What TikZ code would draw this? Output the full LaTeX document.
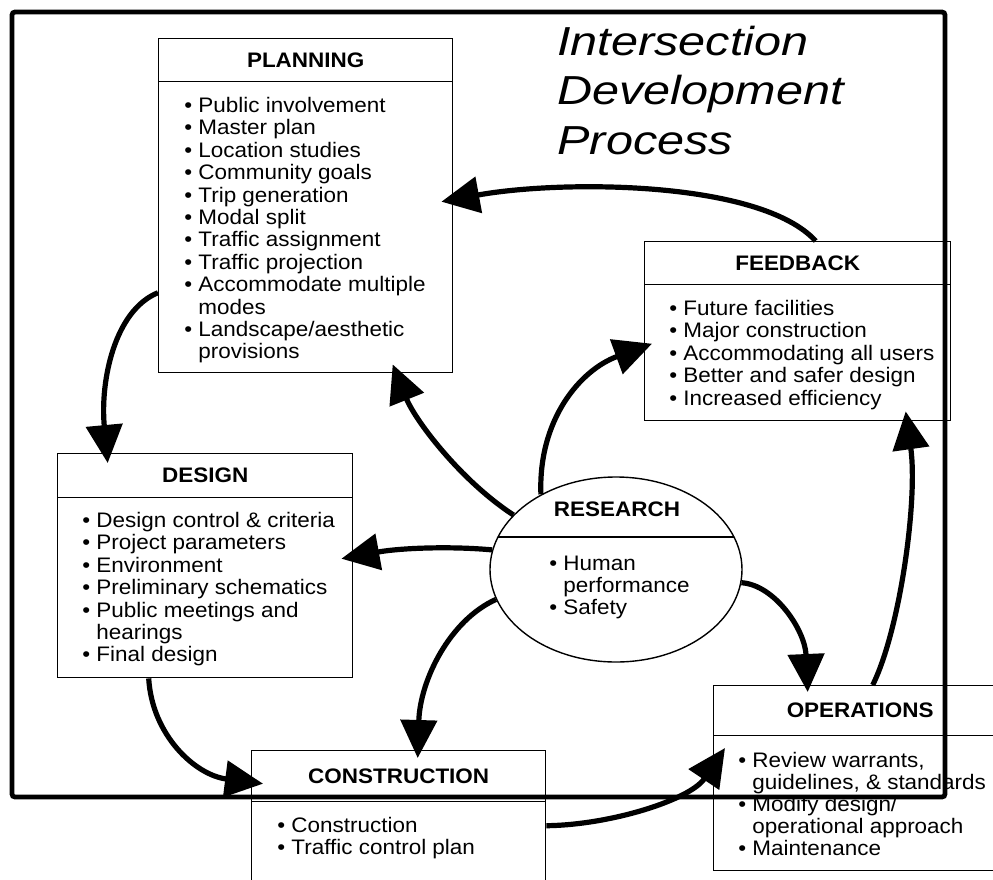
\documentclass[tikz,border=0pt]{standalone}
\usepackage{fontspec}
\setmainfont{Liberation Sans}[FakeStretch=1.07]
\newfontfamily\titlefont{Liberation Sans}[FakeStretch=1.2]
\usetikzlibrary{arrows.meta,shapes.geometric,calc}
% bullet and hanging indent for the item lists
\newcommand\bul{\makebox[7pt][l]{\textbullet}}
\newcommand\cnt{\hspace*{7pt}}
\newcommand\firstline{\rule{0pt}{8pt}}

\begin{document}
\begin{tikzpicture}[x=0.5pt,y=-0.5pt,
  headbox/.style={draw, line width=0.7pt, fill=white, inner sep=0pt, anchor=north west,
                  font=\fontsize{10.5}{12}\selectfont\bfseries},
  bodybox/.style={draw, line width=0.7pt, fill=white, inner sep=0pt, anchor=north west},
  listtext/.style={inner sep=0pt, anchor=north west, align=left,
                   font=\fontsize{10.5}{11.2}\selectfont},
  flow/.style={line width=2.6pt, -{Triangle[length=19pt,width=18pt]}},
]
\useasboundingbox (0,0) rectangle (993,880);
\clip (0,0) rectangle (993,880);
\fill[white] (0,0) rectangle (993,880);

% title
\node[anchor=north west, inner sep=0pt, align=left,
      font=\titlefont\itshape\fontsize{20.25}{24.75}\selectfont] (title) at (557,25)
  {\rule{0pt}{15pt}Intersection\\Development\\Process};

% PLANNING
\node[headbox, minimum width=147pt, minimum height=21.5pt] (planHead) at (158,38) {PLANNING};
\node[bodybox, minimum width=147pt, minimum height=145.5pt] (plan) at (158,81) {};
\node[listtext] (planList) at (184,96) {\firstline\bul Public involvement\\
  \bul Master plan\\
  \bul Location studies\\
  \bul Community goals\\
  \bul Trip generation\\
  \bul Modal split\\
  \bul Traffic assignment\\
  \bul Traffic projection\\
  \bul Accommodate multiple\\
  \cnt modes\\
  \bul Landscape/aesthetic\\
  \cnt provisions};

% DESIGN
\node[headbox, minimum width=147.5pt, minimum height=22pt] (desHead) at (57,453) {DESIGN};
\node[bodybox, minimum width=147.5pt, minimum height=90pt] (des) at (57,497) {};
\node[listtext] (desList) at (82,511) {\firstline\bul Design control \& criteria\\
  \bul Project parameters\\
  \bul Environment\\
  \bul Preliminary schematics\\
  \bul Public meetings and\\
  \cnt hearings\\
  \bul Final design};

% CONSTRUCTION
\node[headbox, minimum width=147pt, minimum height=25.5pt] (conHead) at (251,750) {CONSTRUCTION};
\node[bodybox, minimum width=147pt, minimum height=49.5pt] (con) at (251,801) {};
\node[listtext] (conList) at (277,816) {\firstline\bul Construction\\
  \bul Traffic control plan};

% FEEDBACK
\node[headbox, minimum width=153pt, minimum height=21.5pt] (feedHead) at (644,241) {FEEDBACK};
\node[bodybox, minimum width=153pt, minimum height=68pt] (feed) at (644,284) {};
\node[listtext] (feedList) at (669,299) {\firstline\bul Future facilities\\
  \bul Major construction\\
  \bul Accommodating all users\\
  \bul Better and safer design\\
  \bul Increased efficiency};

% OPERATIONS
\node[headbox, minimum width=146.5pt, minimum height=25pt] (opsHead) at (713,685) {OPERATIONS};
\node[bodybox, minimum width=146.5pt, minimum height=67.5pt] (ops) at (713,735) {};
\node[listtext, font=\fontsize{10.5}{11}\selectfont] (opsList) at (738,751)
  {\firstline\bul Review warrants,\\
  \cnt guidelines, \& standards\\
  \bul Modify design/\\
  \cnt operational approach\\
  \bul Maintenance};

% RESEARCH
\node[draw, ellipse, line width=0.7pt, fill=white, inner sep=0pt,
      minimum width=126pt, minimum height=92.5pt] (res) at (616,569.5) {};
\draw[line width=0.7pt] ($(res.center)+(-118,-32.5)$) -- ($(res.center)+(118,-32.5)$);
\node[inner sep=0pt, font=\fontsize{10.5}{12}\selectfont\bfseries] (resHead) at (617,509.5) {RESEARCH};
\node[listtext, font=\fontsize{10.5}{11}\selectfont] (resList) at (549,554)
  {\firstline\bul Human\\
  \cnt performance\\
  \bul Safety};

% the development cycle
\draw[flow] ($(feedHead.north)+(18,0)$) .. controls (760,180) and (560,180) .. ($(plan.east)+(-12,-25.5)$);
\draw[flow] ($(plan.west)+(0,65.5)$) .. controls (115,310) and (100,380) .. ($(desHead.north)+(-97.5,10)$);
\draw[flow] ($(des.south)+(-56.5,0)$) .. controls (152,735) and (195,775) .. ($(conHead.west)+(12,7.5)$);
\draw[flow] ($(con.east)+(0,-25.5)$) .. controls (610,825) and (690,800) .. ($(ops.north west)+(12,13)$);
\draw[flow] ($(opsHead.north)+(12.5,0)$) .. controls (900,630) and (918,500) .. ($(feed.south)+(108,-10)$);

% research feeding every stage
\draw[flow] (res.152) .. controls (460,480) and (415,420) .. ($(plan.south)+(87,-9)$);
\draw[flow] (res.135) .. controls (538,420) and (580,370) .. ($(feed.west)+(8,-9)$);
\draw[flow] (res.171) .. controls (450,546) and (400,548) .. ($(des.east)+(-12,-29)$);
\draw[flow] (res.194) .. controls (450,620) and (420,680) .. ($(conHead.north)+(19,8)$);
\draw[flow] (res.354) .. controls (775,585) and (805,630) .. ($(opsHead.north)+(-52.5,7)$);

% outer frame
\draw[line width=2.4pt, rounded corners=1.5pt] (12,12) rectangle (945,797);
\end{tikzpicture}
\end{document}
